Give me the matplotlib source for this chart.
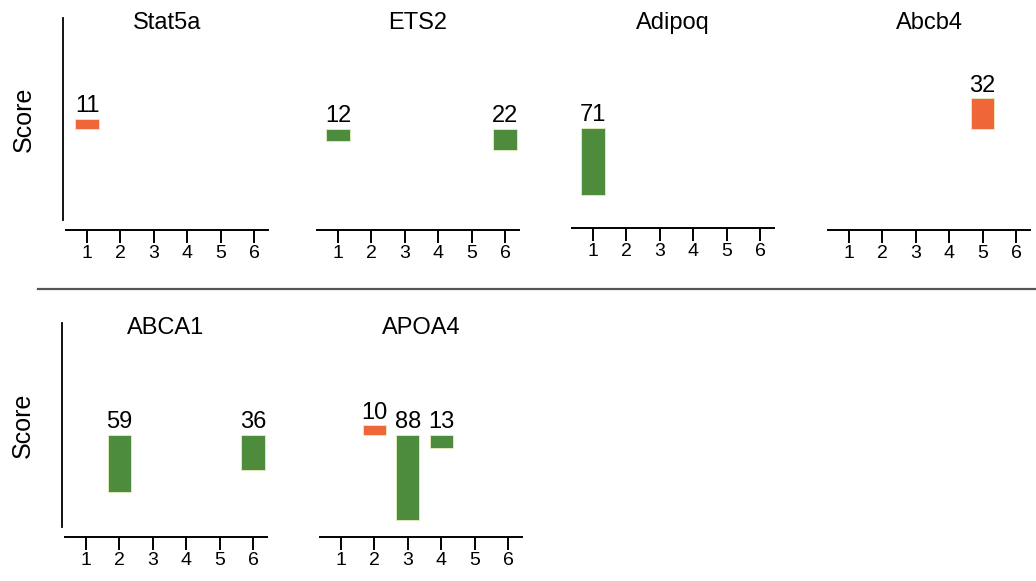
import matplotlib
matplotlib.use("Agg")
import matplotlib.pyplot as plt
from matplotlib.lines import Line2D

plt.rcParams['font.family'] = ['Liberation Sans', 'DejaVu Sans']

genes = ['Stat5a', 'ETS2', 'Adipoq', 'Abcb4', 'ABCA1', 'APOA4']
# per gene: positions, scores, direction (+1 = up / orange, -1 = down / green)
positions = [[1], [1, 6], [1], [5], [2, 6], [2, 3, 4]]
scores = [[11], [12, 22], [71], [32], [59, 36], [10, 88, 13]]
direction = [[1], [-1, -1], [-1], [1], [-1, -1], [1, -1, -1]]
ticks = [1, 2, 3, 4, 5, 6]

orange = '#EF6638'
green = '#4D8C3C'

W, H = 1036, 581
fig = plt.figure(figsize=(W / 100, H / 100), dpi=100)

# panel boxes in pixels: left, top, width, height
boxes = [(66, 18, 202, 202), (317, 18, 202, 202), (572, 18, 202, 200), (828, 18, 202, 202),
         (65, 323, 202, 204), (320, 323, 202, 204)]

for i, gene in enumerate(genes):
    l, t, w, h = boxes[i]
    ax = fig.add_axes([l / W, 1 - (t + h) / H, w / W, h / H])
    for p, s, d in zip(positions[i], scores[i], direction[i]):
        c = orange if d > 0 else green
        ax.bar(p, s * d, width=0.7, color=c, edgecolor='#E8F0C0', linewidth=0.6)
        top = s if d > 0 else 0
        ax.text(p, top + 2, str(s), ha='center', va='bottom', fontsize=17)
    ax.set_xlim(0.37, 6.42)
    ax.set_ylim(-95, 116)
    ax.set_xticks(ticks)
    ax.set_xticklabels([str(x) for x in ticks])
    ax.tick_params(axis='x', length=9, width=1.4, pad=2, labelsize=14)
    ax.set_yticks([])
    ax.spines['top'].set_visible(False)
    ax.spines['right'].set_visible(False)
    ax.spines['bottom'].set_position(('outward', 7))
    ax.spines['bottom'].set_linewidth(1.4)
    if i in (0, 4):
        ax.spines['left'].set_position(('outward', 2))
        ax.spines['left'].set_linewidth(1.3)
        ax.set_ylabel('Score', fontsize=18, labelpad=20)
    else:
        ax.spines['left'].set_visible(False)
    ax.text(0.5, 1 - 5 / h, gene, transform=ax.transAxes, ha='center', va='center', fontsize=17)

# separator between the two rows
fig.add_artist(Line2D([38 / W, 1.0], [1 - 289 / H, 1 - 289 / H], color='#555555', linewidth=1.6))

fig.savefig('out.png', dpi=100, facecolor='white')
